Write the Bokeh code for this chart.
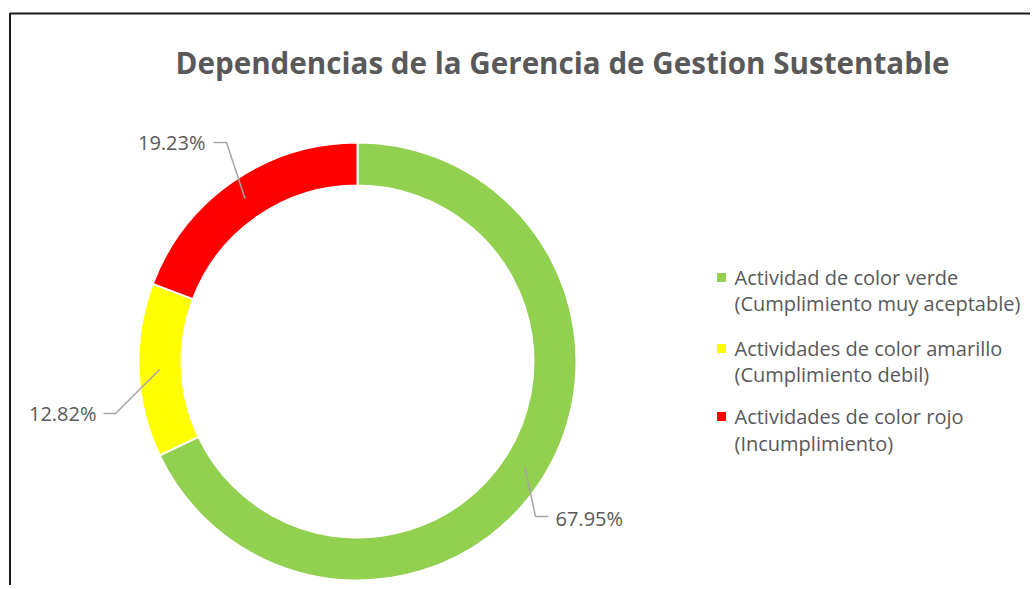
import math
from bokeh.plotting import figure
from bokeh.models import Range1d, ColumnDataSource
from bokeh.core.properties import value
from bokeh.embed import file_html
from bokeh.resources import INLINE

# ---- data ----
categories = ["Actividad de color verde", "Actividades de color amarillo", "Actividades de color rojo"]
subtitles = ["(Cumplimiento muy aceptable)", "(Cumplimiento debil)", "(Incumplimiento)"]
shares = [67.95, 12.82, 19.23]
labels = ["67.95%", "12.82%", "19.23%"]
colors = ["#92D050", "#FFFF00", "#FF0000"]
title = "Dependencias de la Gerencia de Gestion Sustentable"

W, H = 1030, 585
def px(x):  # screen x -> data x
    return x
def py(y):  # screen y -> data y (up)
    return H - y

p = figure(width=W, height=H, output_backend="svg", toolbar_location=None,
           x_range=Range1d(0, W), y_range=Range1d(0, H), min_border=0)
p.axis.visible = False
p.grid.visible = False
p.outline_line_color = None
p.background_fill_color = "white"

# border (chart area frame)
p.line([px(9.5), px(9.5), px(1040)], [0, py(13), py(13)], line_color="#1a1a1a", line_width=2)

# donut
cx, cy = px(357), py(361)
r_out, r_in = 219, 176
total = sum(shares)
starts, ends, mids = [], [], []
cum = 0.0
for s in shares:
    a0 = math.pi / 2 - cum / total * 2 * math.pi
    cum += s
    a1 = math.pi / 2 - cum / total * 2 * math.pi
    starts.append(a0); ends.append(a1); mids.append((a0 + a1) / 2)
src = ColumnDataSource(dict(x=[cx] * 3, y=[cy] * 3, start=starts, end=ends, color=colors))
p.annular_wedge(x="x", y="y", inner_radius=r_in, outer_radius=r_out, start_angle="start",
                end_angle="end", direction="clock", fill_color="color", line_color="white",
                line_width=2, source=src)

# data labels with leader lines
elbows = [(535, 516), (115, 413), (226, 142)]
ends_pt = [(548, 516), (103, 413), (213, 142)]
lab_pos = [(555, 518, "left"), (96, 413, "right"), (205, 142, "right")]
for i in range(3):
    r_mid = 198
    sx = cx + r_mid * math.cos(mids[i])
    sy = cy + r_mid * math.sin(mids[i])
    ex, ey = elbows[i]
    fx, fy = ends_pt[i]
    p.line([sx, px(ex), px(fx)], [sy, py(ey), py(fy)], line_color="#A6A6A6", line_width=1.5)
    lx, ly, al = lab_pos[i]
    p.text([px(lx)], [py(ly)], text=[labels[i]], text_font=value("Open Sans"),
           text_font_size="20px", text_color="#595959", text_align=al, text_baseline="middle")

# title
p.text([px(562)], [py(62)], text=[title], text_font=value("Open Sans"), text_font_style="bold",
       text_font_size="29.6px", text_color="#595959", text_align="center", text_baseline="middle")

# legend
rows = [(277, 303), (348, 374), (416, 443)]
for i in range(3):
    y1, y2 = rows[i]
    p.scatter([px(721)], [py(y1)], marker="square", size=9, fill_color=colors[i], line_color=None)
    p.text([px(734)], [py(y1)], text=[categories[i]], text_font=value("Open Sans"),
           text_font_size="20px", text_color="#595959", text_align="left", text_baseline="middle")
    p.text([px(734)], [py(y2)], text=[subtitles[i]], text_font=value("Open Sans"),
           text_font_size="20px", text_color="#595959", text_align="left", text_baseline="middle")

open("out.html", "w").write(file_html(p, INLINE))
